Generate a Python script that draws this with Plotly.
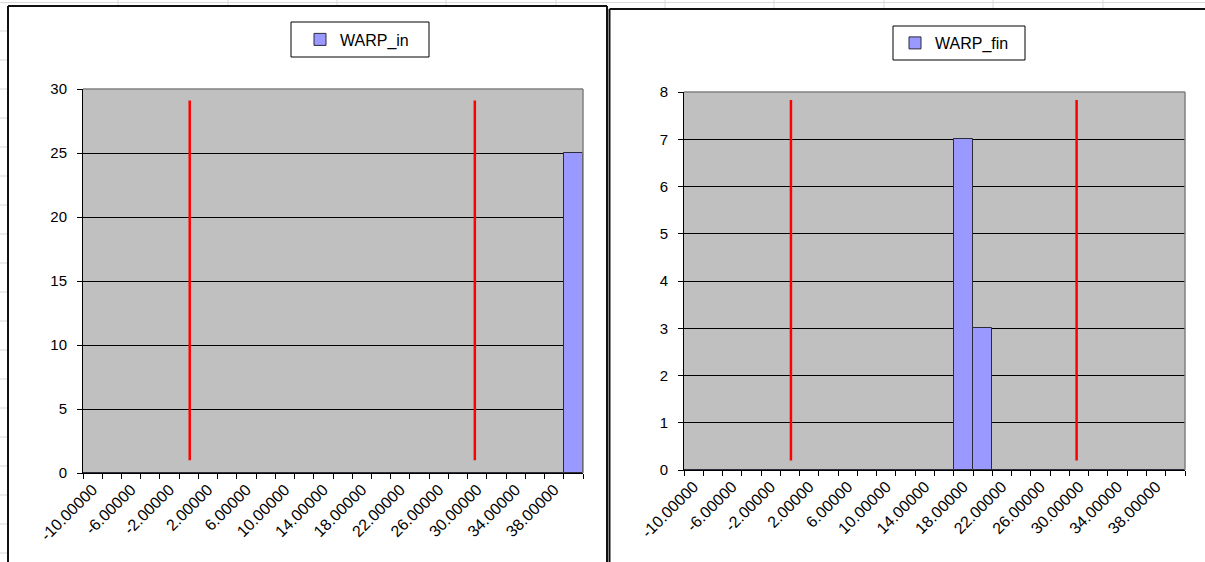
import plotly.graph_objects as go

# ---------------- data ----------------
bins = [-10, -8, -6, -4, -2, 0, 2, 4, 6, 8, 10, 12, 14, 16, 18, 20, 22, 24, 26,
        28, 30, 32, 34, 36, 38, 40]
warp_in = [0, 0, 0, 0, 0, 0, 0, 0, 0, 0, 0, 0, 0, 0, 0, 0, 0, 0, 0, 0, 0, 0, 0, 0, 0, 25]
warp_fin = [0, 0, 0, 0, 0, 0, 0, 0, 0, 0, 0, 0, 0, 0, 7, 3, 0, 0, 0, 0, 0, 0, 0, 0, 0, 0]
tick_vals = [-10, -6, -2, 2, 6, 10, 14, 18, 22, 26, 30, 34, 38]
tick_text = ["%.5f" % v for v in tick_vals]
spec_limits = [0.1, 29.75]          # red vertical limit lines (x position)
limit_span_in = [1.0, 29.1]         # vertical extent of limit lines, WARP_in chart
limit_span_fin = [0.2, 7.83]        # vertical extent of limit lines, WARP_fin chart

W, H = 1205, 562
FONT = "Liberation Sans, Arial, sans-serif"


def px(x):
    return x / W


def py(y):
    return 1 - y / H


fig = go.Figure()

bar_style = dict(marker=dict(color="#9999FF", line=dict(color="#2b2b3a", width=1)), width=2)

fig.add_trace(go.Bar(x=bins, y=warp_in, name="WARP_in", xaxis="x", yaxis="y",
                     legend="legend", **bar_style))
fig.add_trace(go.Bar(x=bins, y=warp_fin, name="WARP_fin", xaxis="x2", yaxis="y2",
                     legend="legend2", **bar_style))

for v in spec_limits:
    fig.add_trace(go.Scatter(x=[v, v], y=limit_span_in, mode="lines", xaxis="x", yaxis="y",
                             line=dict(color="#FF0000", width=2.5), showlegend=False,
                             hoverinfo="skip"))
    fig.add_trace(go.Scatter(x=[v, v], y=limit_span_fin, mode="lines", xaxis="x2", yaxis="y2",
                             line=dict(color="#FF0000", width=2.5), showlegend=False,
                             hoverinfo="skip"))


def xaxis(domain, anchor):
    return dict(domain=domain, anchor=anchor, range=[-11, 41], tickmode="array",
                tickvals=tick_vals, ticktext=tick_text, tickangle=-45, ticks="",
                showgrid=False, zeroline=False, showline=True, linecolor="black", linewidth=1,
                tickfont=dict(family=FONT, size=16, color="black"), automargin=False,
                minor=dict(tickmode="linear", tick0=-11, dtick=2, ticks="outside", ticklen=5,
                           tickcolor="black", tickwidth=1, showgrid=False),
                fixedrange=True)


def yaxis(domain, anchor, top, step):
    return dict(domain=domain, anchor=anchor, range=[0, top], dtick=step, tick0=0,
                ticks="outside", ticklen=5, tickcolor="black", tickwidth=1,
                showgrid=True, gridcolor="black", gridwidth=1, zeroline=False,
                showline=True, linecolor="black", linewidth=1, automargin=False,
                ticklabelstandoff=7,
                tickfont=dict(family=FONT, size=15, color="black"), fixedrange=True)


shapes = []
grid_col = "#D9D9D9"
# spreadsheet cell lines visible around the chart objects
shapes.append(dict(type="line", xref="paper", yref="paper", x0=0, x1=1, y0=py(2.5), y1=py(2.5),
                   line=dict(color=grid_col, width=1)))
for xc in [118, 228, 337, 446, 556]:
    shapes.append(dict(type="line", xref="paper", yref="paper", x0=px(xc), x1=px(xc),
                       y0=py(0), y1=py(6), line=dict(color=grid_col, width=1)))
for xc in [665, 774, 884, 993, 1103]:
    shapes.append(dict(type="line", xref="paper", yref="paper", x0=px(xc), x1=px(xc),
                       y0=py(0), y1=py(9), line=dict(color=grid_col, width=1)))
for k in range(19):
    yc = 31 + 29 * k
    shapes.append(dict(type="line", xref="paper", yref="paper", x0=px(0), x1=px(8),
                       y0=py(yc), y1=py(yc), line=dict(color=grid_col, width=1)))

# chart object frames
frame = dict(color="#111111", width=2)
shapes += [
    dict(type="line", xref="paper", yref="paper", x0=px(8), x1=px(8), y0=py(6), y1=py(570), line=frame),
    dict(type="line", xref="paper", yref="paper", x0=px(8), x1=px(607), y0=py(6), y1=py(6), line=frame),
    dict(type="line", xref="paper", yref="paper", x0=px(607), x1=px(607), y0=py(6), y1=py(570), line=frame),
    dict(type="line", xref="paper", yref="paper", x0=px(609.5), x1=px(609.5), y0=py(9), y1=py(570), line=frame),
    dict(type="line", xref="paper", yref="paper", x0=px(609.5), x1=px(1210), y0=py(9), y1=py(9), line=frame),
]

# legend boxes
shapes += [
    dict(type="rect", xref="paper", yref="paper", x0=px(291), x1=px(429), y0=py(22), y1=py(57),
         line=dict(color="black", width=1)),
    dict(type="rect", xref="paper", yref="paper", x0=px(893), x1=px(1025), y0=py(26), y1=py(60),
         line=dict(color="black", width=1)),
]

# gray plot-area border (top and right)
for xr, yr in [("x domain", "y domain"), ("x2 domain", "y2 domain")]:
    shapes.append(dict(type="line", xref=xr, yref=yr, x0=0, x1=1, y0=1, y1=1,
                       line=dict(color="#808080", width=1.5), layer="above"))
    shapes.append(dict(type="line", xref=xr, yref=yr, x0=1, x1=1, y0=0, y1=1,
                       line=dict(color="#808080", width=1.5), layer="above"))

legend_common = dict(xanchor="left", yanchor="middle", bgcolor="rgba(0,0,0,0)", borderwidth=0,
                     font=dict(family=FONT, size=16, color="black"), itemclick=False,
                     itemdoubleclick=False)

fig.update_layout(
    width=W, height=H,
    margin=dict(l=0, r=0, t=0, b=0, autoexpand=False),
    paper_bgcolor="white",
    plot_bgcolor="#C0C0C0",
    bargap=0,
    font=dict(family=FONT, color="black"),
    xaxis=xaxis([px(83), px(583)], "y"),
    yaxis=yaxis([py(473), py(89)], "x", 30, 5),
    xaxis2=xaxis([px(684), px(1185)], "y2"),
    yaxis2=yaxis([py(470), py(92)], "x2", 8, 1),
    legend=dict(x=px(300), y=py(39.5), **legend_common),
    legend2=dict(x=px(895), y=py(43), **legend_common),
    shapes=shapes,
)

fig.write_html("out.html", config={"displayModeBar": False},
               post_script="document.body.style.margin='0px';")
